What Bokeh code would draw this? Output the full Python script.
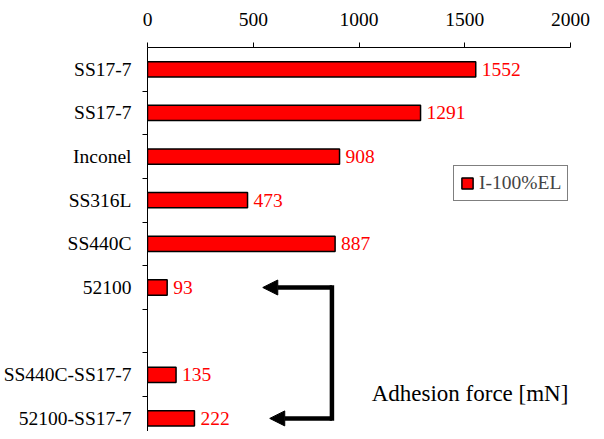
from bokeh.plotting import figure
from bokeh.models import Range1d, FixedTicker, ColumnDataSource, Arrow, NormalHead, Label
from bokeh.core.properties import value
from bokeh.embed import file_html
from bokeh.resources import INLINE

# ---- data ----
categories = ["SS17-7", "SS17-7", "Inconel", "SS316L", "SS440C", "52100", "",
              "SS440C-SS17-7", "52100-SS17-7"]
forces = [1552, 1291, 908, 473, 887, 93, None, 135, 222]
x_ticks = [0, 500, 1000, 1500, 2000]
series_name = "I-100%EL"
axis_title = "Adhesion force [mN]"
arrow_rows = ["52100", "52100-SS17-7"]
arrow_tip_x = [545, 578]
arrow_corner_x = 872

FONT = "Liberation Serif"
FS = "19.5px"

slots = list(range(len(categories)))
centers = [i + 0.5 for i in slots]
boundaries = [i for i in slots[1:]]
bar_y = [c for c, v in zip(centers, forces) if v is not None]
bar_x = [v for v in forces if v is not None]
src = ColumnDataSource(dict(y=bar_y, x=bar_x, lbl=[str(v) for v in bar_x]))

p = figure(width=590, height=431,
           x_range=Range1d(0, 2000), y_range=Range1d(8.8, 0),
           x_axis_location="above",
           output_backend="svg", toolbar_location=None,
           min_border_left=143, min_border_right=20,
           min_border_bottom=0, min_border_top=47)
p.outline_line_color = None
p.grid.visible = False
p.background_fill_color = "white"

p.hbar(y="y", right="x", left=0, height=0.35, source=src,
       fill_color="#FF0000", line_color="black", line_width=1.5,
       legend_label=series_name)
p.text(x="x", y="y", text="lbl", source=src, x_offset=6,
       text_baseline="middle", text_align="left", text_color="#FF0000",
       text_font=value(FONT), text_font_size=FS)

# x axis (top)
xa = p.xaxis[0]
xa.ticker = FixedTicker(ticks=x_ticks)
xa.major_tick_out = 5
xa.major_tick_in = 0
xa.minor_tick_line_color = None
xa.major_label_standoff = 17
xa.major_label_text_font = FONT
xa.major_label_text_font_size = FS
xa.major_label_text_color = "black"
xa.axis_line_color = "black"
xa.major_tick_line_color = "black"

# y axis (left)
ya = p.yaxis[0]
ya.ticker = FixedTicker(ticks=centers, minor_ticks=boundaries)
ya.major_label_overrides = {c: n for c, n in zip(centers, categories)}
ya.major_tick_out = 0
ya.major_tick_in = 0
ya.minor_tick_out = 5
ya.minor_tick_in = 0
ya.minor_tick_line_color = "black"
ya.major_label_standoff = 11
ya.major_label_text_font = FONT
ya.major_label_text_font_size = FS
ya.major_label_text_color = "black"
ya.axis_line_color = "black"

# legend
lg = p.legend[0]
lg.location = (306, 230)
lg.margin = 0
lg.padding = 6
lg.glyph_width = 14
lg.glyph_height = 14
lg.label_standoff = 5
lg.spacing = 0
lg.label_text_font = FONT
lg.label_text_font_size = FS
lg.border_line_color = "black"
lg.border_line_width = 1
lg.background_fill_alpha = 1

# arrows bracket
arrow_y = [categories.index(r) + 0.5 for r in arrow_rows]
for tip, yy in zip(arrow_tip_x, arrow_y):
    p.add_layout(Arrow(end=NormalHead(size=15, fill_color="black", line_color="black", line_width=1),
                       x_start=arrow_corner_x, y_start=yy, x_end=tip, y_end=yy,
                       line_width=4.5, line_color="black"))
p.line(x=[arrow_corner_x, arrow_corner_x], y=arrow_y, line_width=4.5,
       line_color="black", line_cap="square")

p.add_layout(Label(x=1990, y=7.94, text=axis_title, text_align="right",
                   text_baseline="middle", text_font=FONT, text_font_size="23px",
                   text_color="black"))

open("out.html", "w").write(file_html(p, INLINE))
